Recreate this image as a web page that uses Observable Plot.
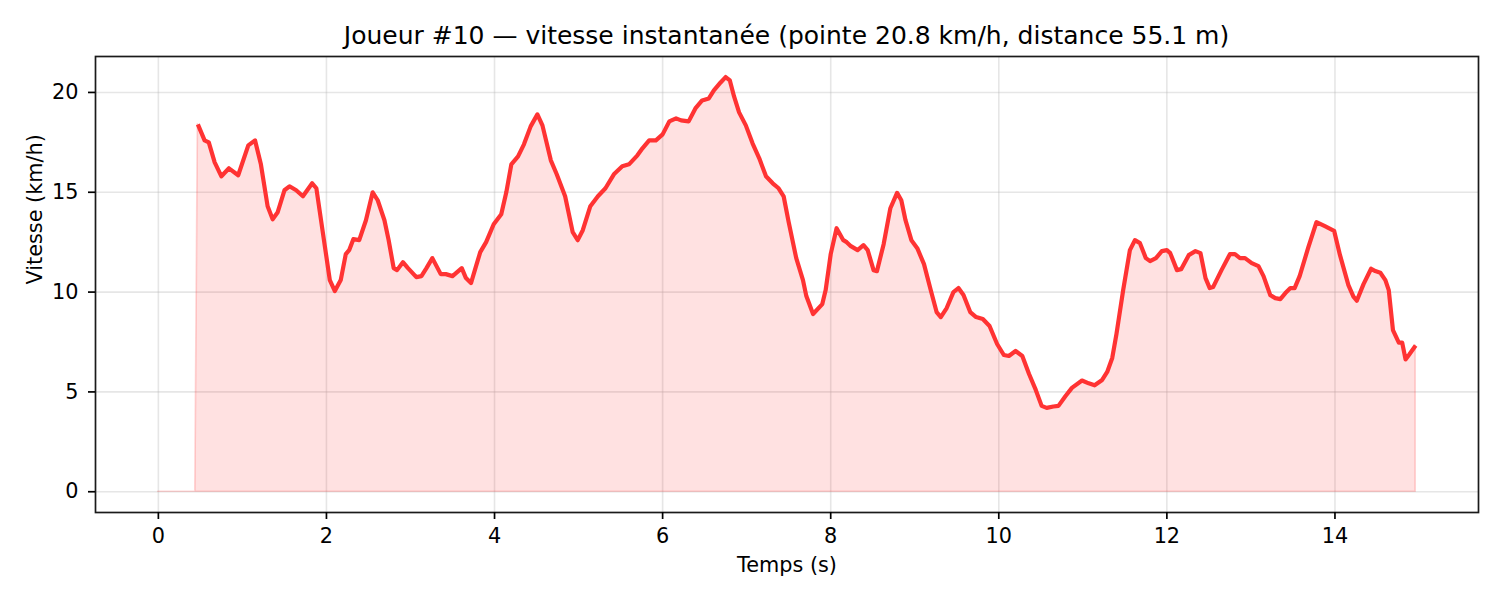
<!DOCTYPE html>
<html>
<head>
<meta charset="utf-8">
<script src="https://cdn.jsdelivr.net/npm/d3@7"></script>
<script src="https://cdn.jsdelivr.net/npm/@observablehq/plot@0.6"></script>
<style>
  html, body { margin: 0; padding: 0; background: white; }
  #wrap { width: 1500px; font-family: "DejaVu Sans", sans-serif; }
  #title {
    box-sizing: border-box; width: 1500px; height: 50px;
    padding: 23px 22px 0 95px; text-align: center;
    font-size: 25px; line-height: 25px; color: #000; white-space: nowrap;
  }
</style>
</head>
<body>
<div id="wrap">
  <div id="title">Joueur #10 — vitesse instantanée (pointe 20.8 km/h, distance 55.1 m)</div>
  <div id="chart"></div>
</div>
<script>
// Time (s) and speed (km/h)
const temps = [
  0.47, 0.55, 0.60, 0.67, 0.75, 0.84, 0.95, 1.07, 1.15, 1.22, 1.30, 1.36, 1.42, 1.50, 1.56, 1.64, 1.72, 1.83, 1.88, 1.96,
  2.04, 2.10, 2.17, 2.23, 2.27, 2.32, 2.39, 2.47, 2.55, 2.61, 2.69, 2.74, 2.80, 2.84, 2.91, 2.97, 3.07, 3.13, 3.19, 3.26,
  3.36, 3.42, 3.50, 3.61, 3.66, 3.72, 3.78, 3.83, 3.90, 3.99, 4.08, 4.14, 4.20, 4.28, 4.35, 4.43, 4.51, 4.57, 4.67, 4.74,
  4.84, 4.93, 4.99, 5.05, 5.14, 5.23, 5.32, 5.42, 5.52, 5.60, 5.70, 5.76, 5.84, 5.92, 6.00, 6.08, 6.16, 6.22, 6.31, 6.39,
  6.47, 6.55, 6.61, 6.69, 6.75, 6.80, 6.85, 6.91, 6.99, 7.07, 7.15, 7.23, 7.31, 7.38, 7.44, 7.50, 7.59, 7.67, 7.71, 7.79,
  7.90, 7.94, 8.00, 8.07, 8.15, 8.19, 8.24, 8.32, 8.39, 8.44, 8.51, 8.55, 8.63, 8.71, 8.79, 8.84, 8.89, 8.96, 9.03, 9.11,
  9.19, 9.26, 9.31, 9.38, 9.46, 9.52, 9.58, 9.66, 9.73, 9.81, 9.89, 9.98, 10.06, 10.12, 10.20, 10.28, 10.36, 10.44, 10.51, 10.57,
  10.65, 10.71, 10.79, 10.87, 10.99, 11.07, 11.14, 11.23, 11.29, 11.35, 11.40, 11.48, 11.56, 11.62, 11.68, 11.75, 11.80, 11.87, 11.94, 12.00,
  12.04, 12.12, 12.17, 12.26, 12.34, 12.40, 12.46, 12.51, 12.55, 12.65, 12.75, 12.81, 12.87, 12.93, 13.01, 13.09, 13.15, 13.23, 13.29, 13.35,
  13.41, 13.47, 13.52, 13.58, 13.68, 13.78, 13.88, 13.99, 14.06, 14.16, 14.22, 14.26, 14.34, 14.43, 14.48, 14.54, 14.60, 14.64, 14.69, 14.76,
  14.80, 14.84, 14.88, 14.96
];
const vitesse = [
  18.4, 17.6, 17.5, 16.5, 15.8, 16.2, 15.85, 17.35, 17.6, 16.4, 14.3, 13.65, 14.0, 15.1, 15.3, 15.1, 14.8, 15.45, 15.2, 12.9,
  10.6, 10.05, 10.6, 11.9, 12.1, 12.65, 12.6, 13.6, 15.0, 14.6, 13.6, 12.6, 11.2, 11.1, 11.5, 11.2, 10.75, 10.8, 11.2, 11.7,
  10.9, 10.9, 10.8, 11.2, 10.7, 10.45, 11.3, 12.0, 12.5, 13.4, 13.9, 15.0, 16.4, 16.8, 17.4, 18.3, 18.9, 18.35, 16.6, 15.9,
  14.8, 13.0, 12.6, 13.1, 14.3, 14.8, 15.2, 15.9, 16.3, 16.4, 16.85, 17.2, 17.6, 17.6, 17.9, 18.55, 18.7, 18.6, 18.55, 19.2,
  19.6, 19.7, 20.1, 20.5, 20.77, 20.6, 19.8, 19.0, 18.35, 17.45, 16.7, 15.8, 15.45, 15.2, 14.8, 13.5, 11.7, 10.6, 9.8, 8.9,
  9.4, 10.1, 11.9, 13.2, 12.6, 12.5, 12.3, 12.1, 12.35, 12.1, 11.1, 11.05, 12.4, 14.2, 14.97, 14.6, 13.6, 12.6, 12.2, 11.4,
  10.1, 9.0, 8.75, 9.2, 10.0, 10.2, 9.85, 9.0, 8.75, 8.65, 8.3, 7.4, 6.85, 6.8, 7.05, 6.8, 5.9, 5.1, 4.3, 4.2,
  4.27, 4.3, 4.77, 5.2, 5.57, 5.43, 5.33, 5.6, 6.0, 6.7, 7.9, 10.1, 12.1, 12.6, 12.45, 11.7, 11.55, 11.7, 12.05, 12.1,
  11.95, 11.1, 11.15, 11.85, 12.05, 11.95, 10.7, 10.2, 10.25, 11.1, 11.9, 11.9, 11.7, 11.7, 11.45, 11.3, 10.8, 9.85, 9.7, 9.65,
  9.95, 10.2, 10.2, 10.8, 12.2, 13.5, 13.3, 13.07, 11.85, 10.35, 9.77, 9.57, 10.4, 11.17, 11.05, 10.97, 10.6, 10.1, 8.1, 7.47,
  7.47, 6.63, 6.85, 7.32
];
// Samples at zero before the player starts moving (fill only)
const debutTemps = [0, 0.44];
const debutVitesse = [0, 0];

const xTicks = [0, 2, 4, 6, 8, 10, 12, 14];
const yTicks = [0, 5, 10, 15, 20];
const titreX = "Temps (s)";
const titreY = "Vitesse (km/h)";

const ligne = temps.map((t, i) => ({t, v: vitesse[i]}));
const remplissage = debutTemps.map((t, i) => ({t, v: debutVitesse[i]})).concat(ligne);

const rouge = "#ff3333";
const chart = Plot.plot({
  width: 1500,
  height: 550,
  marginTop: 6,
  marginBottom: 88,
  marginLeft: 95,
  marginRight: 22,
  style: {fontFamily: "DejaVu Sans, sans-serif", fontSize: "20.8px", background: "white", overflow: "visible", color: "#000"},
  x: {domain: [-0.748, 15.708]},
  y: {domain: [-1.04, 21.8]},
  marks: [
    Plot.gridX(xTicks, {stroke: "#b0b0b0", strokeOpacity: 0.32, strokeWidth: 1.6}),
    Plot.gridY(yTicks, {stroke: "#b0b0b0", strokeOpacity: 0.32, strokeWidth: 1.6}),
    Plot.areaY(remplissage, {x: "t", y: "v", fill: rouge, fillOpacity: 0.15, stroke: rouge, strokeOpacity: 0.2, strokeWidth: 1.7}),
    Plot.lineY(ligne, {x: "t", y: "v", stroke: rouge, strokeWidth: 4.2, strokeLinejoin: "round", strokeLinecap: "butt"}),
    Plot.frame({stroke: "#1a1a1a", strokeWidth: 1.7}),
    Plot.axisX(xTicks, {tickSize: 7, tickPadding: 9, fontSize: 20.8, label: null, color: "#000", strokeWidth: 1.7}),
    Plot.axisY(yTicks, {tickSize: 7, tickPadding: 10, fontSize: 20.8, label: null, color: "#000", strokeWidth: 1.7}),
    Plot.text([titreX], {frameAnchor: "bottom", lineAnchor: "middle", dy: 53, fontSize: 20.8, fill: "#000", text: d => d}),
    Plot.text([titreY], {frameAnchor: "left", lineAnchor: "middle", dx: -60, rotate: -90, fontSize: 20.8, fill: "#000", text: d => d})
  ]
});
document.getElementById("chart").appendChild(chart);
</script>
</body>
</html>
